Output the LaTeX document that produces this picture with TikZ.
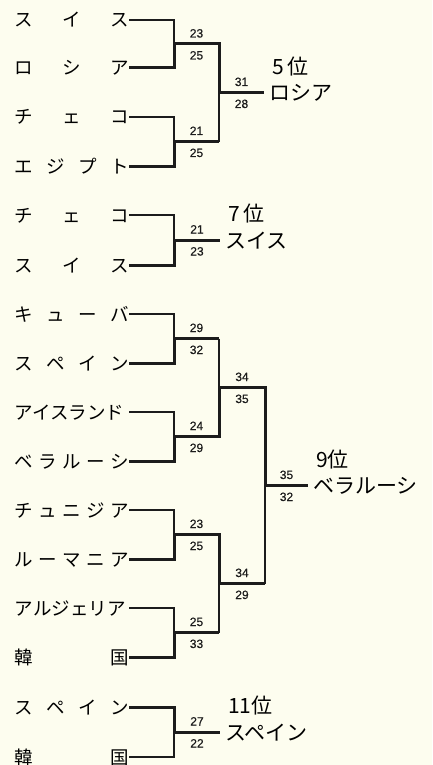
\documentclass[tikz,border=0pt]{standalone}
\usepackage{fontspec}
\usetikzlibrary{positioning}
\newfontfamily\jpfont{Noto Sans CJK JP}
\newfontfamily\numfont[FakeBold=0.5]{Liberation Sans}
\definecolor{Paper}{HTML}{FDFDEF}
\definecolor{Ink}{HTML}{1C1C1C}
\newcommand{\spreadname}[1]{\makebox[114pt][s]{#1}}

\begin{document}
\begin{tikzpicture}[x=1pt,y=-1pt,
  team/.style={anchor=east,inner sep=0pt,text height=15pt,text depth=1pt,
    font=\jpfont\fontsize{18.5}{20}\selectfont},
  result/.style={anchor=west,inner xsep=5pt,inner ysep=0pt,text height=17pt,text depth=1pt,
    font=\jpfont\fontsize{21}{23}\selectfont},
  rank/.style={result},
  score/.style={inner sep=2pt,text height=8pt,text depth=0pt,
    font=\numfont\fontsize{12}{13}\selectfont},
  win/.style={Ink,line width=3pt},
  lose/.style={Ink,line width=1.4pt}]

  \fill[Paper] (0,0) rectangle (432,765);
  \useasboundingbox (0,0) rectangle (432,765);

  % 5th place
  \node[team] (sui1) at (129,20) {\spreadname{ス\hfill イ\hfill ス}};
  \node[team] (rus1) at (129,68) {\spreadname{ロ\hfill シ\hfill ア}};
  \node[team] (cze1) at (129,117) {\spreadname{チ\hfill ェ\hfill コ}};
  \node[team] (egy1) at (129,166) {\spreadname{エ\hfill ジ\hfill プ\hfill ト}};
  \coordinate (m1) at (174,44);
  \coordinate (m2) at (174,141.5);
  \coordinate (f1) at (219,92.5);
  \node[result] (r1) at (264,92.5) {ロシア};
  \node[rank,above right=8pt and 3pt of r1.north west] (p1) {5\,位};
  \draw[lose] (sui1.east) -| (m1);
  \draw[win] (rus1.east) -| (m1);
  \draw[lose] (cze1.east) -| (m2);
  \draw[win] (egy1.east) -| (m2);
  \draw[win] (m1) -| (f1) node[score,pos=.25,above=3pt]{23} node[score,pos=.25,below=4pt]{25};
  \draw[win] (m2) -- (m2 -| f1) node[score,midway,above=3pt]{21} node[score,midway,below=4pt]{25};
  \draw[lose] (m2 -| f1) -- (f1);
  \draw[win] (f1) -- (r1.west) node[score,midway,above=3pt]{31} node[score,midway,below=4pt]{28};

  % 7th place
  \node[team] (cze2) at (129,215) {\spreadname{チ\hfill ェ\hfill コ}};
  \node[team] (sui2) at (129,265) {\spreadname{ス\hfill イ\hfill ス}};
  \coordinate (m3) at (174,240);
  \node[result] (r2) at (220,240) {スイス};
  \node[rank,above right=8pt and 3pt of r2.north west] (p2) {7\,位};
  \draw[lose] (cze2.east) -| (m3);
  \draw[win] (sui2.east) -| (m3);
  \draw[win] (m3) -- (r2.west) node[score,midway,above=3pt]{21} node[score,midway,below=4pt]{23};

  % 9th place
  \node[team] (cub) at (129,314) {\spreadname{キ\hfill ュ\hfill ー\hfill バ}};
  \node[team] (esp1) at (129,363) {\spreadname{ス\hfill ペ\hfill イ\hfill ン}};
  \node[team] (isl) at (129,412) {\spreadname{アイスランド}};
  \node[team] (blr) at (129,461) {\spreadname{ベ\hfill ラ\hfill ル\hfill ー\hfill シ}};
  \node[team] (tun) at (129,510) {\spreadname{チ\hfill ュ\hfill ニ\hfill ジ\hfill ア}};
  \node[team] (rou) at (129,559) {\spreadname{ル\hfill ー\hfill マ\hfill ニ\hfill ア}};
  \node[team] (alg) at (129,608) {\spreadname{アルジェリア}};
  \node[team] (kor1) at (129,657) {\spreadname{韓\hfill 国}};
  \coordinate (m4) at (174,338.5);
  \coordinate (m5) at (174,436.5);
  \coordinate (m6) at (174,534.5);
  \coordinate (m7) at (174,632.5);
  \coordinate (n1) at (219,387.5);
  \coordinate (n2) at (219,583.5);
  \coordinate (f3) at (265,485.5);
  \node[result] (r3) at (308,485.5) {ベラルーシ};
  \node[rank,above right=8pt and 3pt of r3.north west] (p3) {9位};
  \draw[lose] (cub.east) -| (m4);
  \draw[win] (esp1.east) -| (m4);
  \draw[lose] (isl.east) -| (m5);
  \draw[win] (blr.east) -| (m5);
  \draw[lose] (tun.east) -| (m6);
  \draw[win] (rou.east) -| (m6);
  \draw[lose] (alg.east) -| (m7);
  \draw[win] (kor1.east) -| (m7);
  \draw[win] (m4) -- (m4 -| n1) node[score,midway,above=3pt]{29} node[score,midway,below=4pt]{32};
  \draw[lose] (m4 -| n1) -- (n1);
  \draw[win] (m5) -| (n1) node[score,pos=.25,above=3pt]{24} node[score,pos=.25,below=4pt]{29};
  \draw[win] (m6) -| (n2) node[score,pos=.25,above=3pt]{23} node[score,pos=.25,below=4pt]{25};
  \draw[win] (m7) -- (m7 -| n2) node[score,midway,above=3pt]{25} node[score,midway,below=4pt]{33};
  \draw[lose] (m7 -| n2) -- (n2);
  \draw[win] (n1) -| (f3) node[score,pos=.25,above=3pt]{34} node[score,pos=.25,below=4pt]{35};
  \draw[win] (n2) -- (n2 -| f3) node[score,midway,above=3pt]{34} node[score,midway,below=4pt]{29};
  \draw[lose] (n2 -| f3) -- (f3);
  \draw[win] (f3) -- (r3.west) node[score,midway,above=3pt]{35} node[score,midway,below=4pt]{32};

  % 11th place
  \node[team] (esp2) at (129,707) {\spreadname{ス\hfill ペ\hfill イ\hfill ン}};
  \node[team] (kor2) at (129,757) {\spreadname{韓\hfill 国}};
  \coordinate (m8) at (174,732);
  \node[result] (r4) at (220,732) {スペイン};
  \node[rank,above right=8pt and 3pt of r4.north west] (p4) {11位};
  \draw[win] (esp2.east) -| (m8);
  \draw[lose] (kor2.east) -| (m8);
  \draw[win] (m8) -- (r4.west) node[score,midway,above=3pt]{27} node[score,midway,below=4pt]{22};
\end{tikzpicture}
\end{document}
